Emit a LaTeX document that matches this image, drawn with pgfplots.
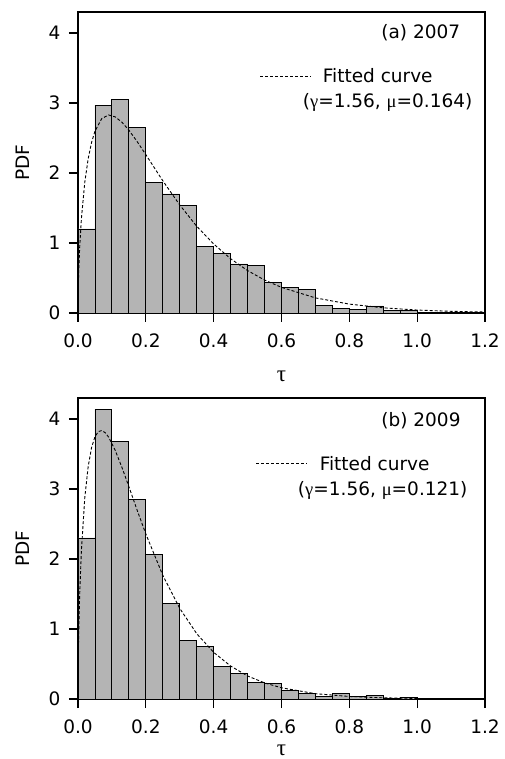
\documentclass[border=0pt]{standalone}
\usepackage{pgfplots}
\pgfplotsset{compat=1.18}
\usepackage{fontspec}
\setmainfont{DejaVu Sans}
\newfontfamily\grk{Liberation Serif}
\definecolor{barfill}{RGB}{180,180,180}
\pgfplotsset{
  histax/.style={
    scale only axis, width=407bp, height=301bp,
    xmin=0, xmax=1.2, ymin=0, ymax=4.3,
    xtick={0,0.2,0.4,0.6,0.8,1.0,1.2},
    ytick={0,1,2,3,4},
    xtick pos=left, ytick pos=left,
    tick align=outside, major tick length=9bp,
    axis line style={line width=1.2bp, black},
    every tick/.style={line width=1.1bp, black},
    /pgf/number format/assume math mode=true,
    xticklabel style={/pgf/number format/.cd, fixed, fixed zerofill, precision=1, /tikz/.cd, yshift=-8bp},
    yticklabel style={xshift=-5bp},
    font=\fontsize{18.5bp}{21bp}\selectfont,
    xlabel={{\fontsize{23bp}{25bp}\selectfont\grk τ}}, ylabel={PDF},
    xlabel style={at={(axis description cs:0.5,-0.211)}, anchor=center},
    ylabel style={at={(axis description cs:-0.136,0.5)}, anchor=center},
    legend cell align=left,
    legend image code/.code={\draw[#1] (0bp,0bp) -- (51bp,0bp);},
  },
  histbar/.style={ybar interval, fill=barfill, draw=black, line width=0.9bp},
  fitline/.style={black, line width=0.9bp, dash pattern=on 3bp off 2bp},
}
\begin{document}
\begin{tikzpicture}[font=\fontsize{18.5bp}{21bp}\selectfont]
\path[use as bounding box] (0,0) rectangle (505bp,759bp);
% (a) 2007
\begin{axis}[histax, at={(78bp,446bp)}, anchor=south west,
  legend style={at={(rel axis cs:0.447,0.786)}, anchor=west, draw=none, fill=none,
    inner sep=0pt, outer sep=0pt, column sep=11bp, nodes={inner sep=0pt}}]
\addplot[histbar, forget plot] coordinates {
(0.00,1.20) (0.05,2.97) (0.10,3.05) (0.15,2.65) (0.20,1.87) (0.25,1.70)
(0.30,1.53) (0.35,0.95) (0.40,0.85) (0.45,0.70) (0.50,0.68) (0.55,0.44)
(0.60,0.36) (0.65,0.34) (0.70,0.11) (0.75,0.07) (0.80,0.05) (0.85,0.10)
(0.90,0.04) (0.95,0.03) (1.00,0.01) (1.05,0.005) (1.10,0.005) (1.15,0.005)};
\addplot[fitline] coordinates {
(0,0) (0.0005,0.267) (0.001,0.392) (0.002,0.574) (0.005,0.940) (0.01,1.347)
(0.02,1.868) (0.03,2.204) (0.04,2.437) (0.05,2.597) (0.07,2.777) (0.09,2.829)
(0.11,2.801) (0.13,2.723) (0.15,2.612) (0.175,2.445) (0.2,2.262) (0.25,1.889)
(0.3,1.543) (0.35,1.239) (0.4,0.986) (0.45,0.775) (0.5,0.606) (0.55,0.471)
(0.6,0.366) (0.7,0.216) (0.8,0.127) (0.9,0.074) (1.0,0.042) (1.1,0.024) (1.2,0.014)};
\addlegendentry{Fitted curve}
\node[anchor=west, inner sep=0pt] at (rel axis cs:0.552,0.698) {({\grk γ}=1.56, {\grk μ}=0.164)};
\node[anchor=west, inner sep=0pt] at (rel axis cs:0.745,0.930) {(a) 2007};
\end{axis}
% (b) 2009
\begin{axis}[histax, at={(78bp,60bp)}, anchor=south west,
  xlabel style={at={(axis description cs:0.5,-0.17)}},
  legend style={at={(rel axis cs:0.437,0.781)}, anchor=west, draw=none, fill=none,
    inner sep=0pt, outer sep=0pt, column sep=12bp, nodes={inner sep=0pt}}]
\addplot[histbar, forget plot] coordinates {
(0.00,2.30) (0.05,4.14) (0.10,3.68) (0.15,2.85) (0.20,2.06) (0.25,1.37)
(0.30,0.84) (0.35,0.75) (0.40,0.47) (0.45,0.37) (0.50,0.24) (0.55,0.22)
(0.60,0.12) (0.65,0.085) (0.70,0.04) (0.75,0.075) (0.80,0.03) (0.85,0.055)
(0.90,0.0) (0.95,0.02) (1.00,0.0)};
\addplot[fitline] coordinates {
(0,0) (0.0005,0.428) (0.001,0.628) (0.002,0.919) (0.005,1.495) (0.01,2.119)
(0.02,2.876) (0.03,3.320) (0.04,3.592) (0.05,3.747) (0.06,3.820) (0.07,3.835)
(0.08,3.805) (0.09,3.743) (0.11,3.549) (0.13,3.303) (0.15,3.034) (0.175,2.689)
(0.2,2.358) (0.25,1.767) (0.3,1.295) (0.35,0.933) (0.4,0.666) (0.45,0.471)
(0.5,0.329) (0.55,0.230) (0.6,0.160) (0.7,0.076) (0.8,0.036) (0.9,0.017)
(1.0,0.008) (1.1,0.004) (1.2,0.002)};
\addlegendentry{Fitted curve}
\node[anchor=west, inner sep=0pt] at (rel axis cs:0.540,0.694) {({\grk γ}=1.56, {\grk μ}=0.121)};
\node[anchor=west, inner sep=0pt] at (rel axis cs:0.745,0.924) {(b) 2009};
\end{axis}
\end{tikzpicture}
\end{document}
